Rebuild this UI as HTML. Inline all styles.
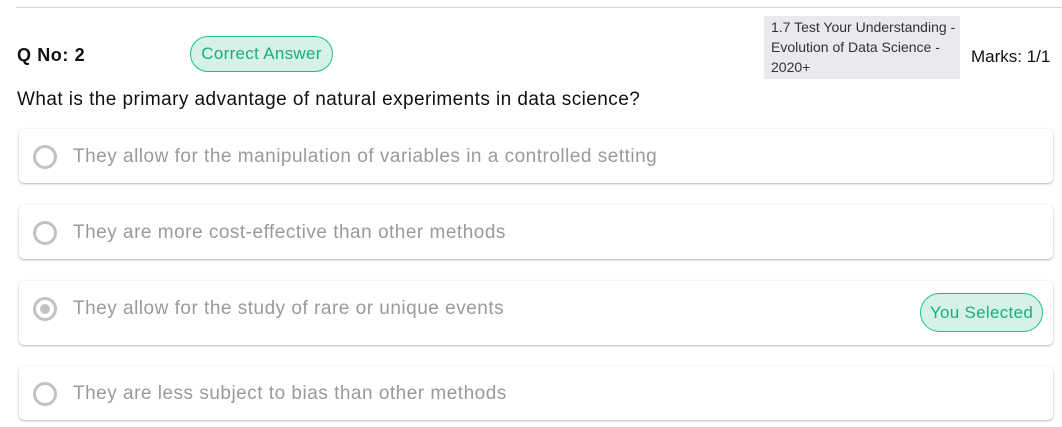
<!DOCTYPE html>
<html><head><meta charset="utf-8"><style>
body{margin:0;width:1062px;height:427px;background:#fff;font-family:"Liberation Sans",sans-serif;position:relative;overflow:hidden}
.a{position:absolute}
.line{left:16px;top:7px;width:1046px;height:1px;background:#d4d4da}
.badge{background:#d5f1e8;border:1px solid #1dbf8e;color:#1aae80;border-radius:20px;box-sizing:border-box;font-size:17px;letter-spacing:0.3px;display:flex;align-items:center;justify-content:center}
.card{left:19px;width:1034px;background:#fff;border-radius:5px;box-shadow:0 1px 2px rgba(0,0,0,.28),0 0 1px rgba(0,0,0,.08);box-sizing:border-box}
.radio{position:absolute;left:14px;width:24px;height:24px;border:3px solid #c2c2c2;border-radius:50%;box-sizing:border-box}
.opt{position:absolute;left:54px;font-size:19px;letter-spacing:0.5px;color:#9a9a9a;white-space:nowrap}
</style></head><body>
<div class="a line"></div>
<div class="a" style="left:17px;top:45px;font-size:18px;font-weight:bold;letter-spacing:0.6px;color:#111">Q No: 2</div>
<div class="a badge" style="left:190px;top:36px;width:143px;height:36px">Correct Answer</div>
<div class="a" style="left:764px;top:16px;width:196px;height:63px;background:#e8eaee;color:#333;font-size:14px;line-height:20px;padding:1px 7px;box-sizing:border-box;white-space:nowrap">1.7 Test Your Understanding -<br>Evolution of Data Science -<br>2020+</div>
<div class="a" style="left:971px;top:47px;font-size:17px;color:#111">Marks: 1/1</div>
<div class="a" style="left:17px;top:89px;font-size:19px;letter-spacing:0.43px;color:#111;white-space:nowrap">What is the primary advantage of natural experiments in data science?</div>

<div class="a card" style="top:129px;height:54px">
<div class="radio" style="top:16px"></div>
<div class="opt" style="top:17px">They allow for the manipulation of variables in a controlled setting</div></div>

<div class="a card" style="top:205px;height:54px">
<div class="radio" style="top:16px"></div>
<div class="opt" style="top:17px">They are more cost-effective than other methods</div></div>

<div class="a card" style="top:281px;height:64px">
<div class="radio" style="top:16px"><div style="position:absolute;left:4px;top:4px;width:10px;height:10px;border-radius:50%;background:#c2c2c2"></div></div>
<div class="opt" style="top:17px">They allow for the study of rare or unique events</div>
<div class="badge" style="position:absolute;left:901px;top:12px;width:123px;height:39px">You Selected</div></div>

<div class="a card" style="top:366px;height:54px">
<div class="radio" style="top:16px"></div>
<div class="opt" style="top:17px">They are less subject to bias than other methods</div></div>
</body></html>
